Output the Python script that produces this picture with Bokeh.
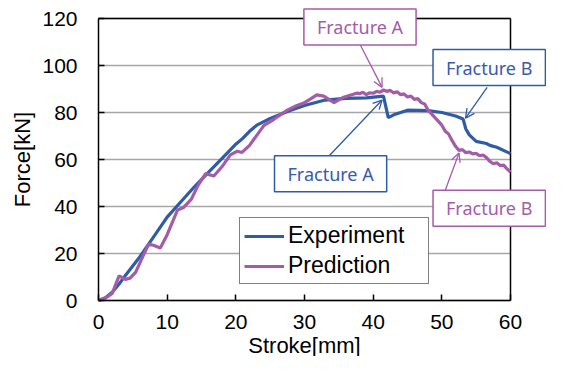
from bokeh.plotting import figure
from bokeh.models import Label, Arrow, OpenHead, Legend, LegendItem, Range1d, FixedTicker, ColumnDataSource, Grid
from bokeh.embed import file_html
from bokeh.resources import INLINE

# ---- data ----
exp_stroke = [0, 1, 2, 3, 4, 6, 8, 10, 12, 14, 16, 18, 20, 21, 22, 23, 25, 28, 30, 33, 36, 39, 41.5,
              42.2, 43, 45, 48, 50, 52, 53.1, 53.5, 54, 55, 56.5, 57, 58, 60]
exp_force = [0, 1.2, 3.5, 7, 11, 18.5, 27, 35.5, 42, 48.5, 54.5, 60.5, 66.5, 69, 72, 74.5, 77.5, 81, 83,
             85.3, 86, 86.2, 87, 77.8, 79, 81, 80.8, 80, 78.5, 77.2, 73, 70.5, 67.7, 66.8, 66, 65.2, 62.5]

pred_stroke = [0, 1, 2, 3, 3.9, 4.6, 5.4, 6.5, 7.3, 8, 9, 10, 11.5, 12.4, 13.5, 14.5, 15.6, 16.8, 18,
               19.2, 20.2, 20.9, 22, 22.6, 24.1, 25.5, 27.5, 28.9, 29.9, 31, 31.8, 32.8, 34.3, 35.7,
               37.7, 38, 38.5, 39, 39.5, 40, 40.5, 41, 41.5, 42, 42.5, 43, 43.5, 44, 44.5, 45, 45.5,
               46, 46.5, 47, 47.5, 48, 48.5, 49, 49.5, 50, 50.5, 51, 51.5, 52, 52.5, 53, 53.5, 54,
               54.5, 55, 55.5, 56, 56.5, 57, 57.5, 58, 58.5, 59, 59.5, 60]
pred_force = [0, 1, 3, 10.5, 9, 9.5, 12, 19, 24, 23.5, 22.3, 28, 38.5, 39.6, 43, 49, 54, 53, 57,
              62, 63.5, 63, 66, 68.5, 74.5, 77, 81, 83, 84, 86, 87.5, 87, 84.2, 86.5,
              88.3, 88.0, 88.6, 87.6, 88.4, 88.2, 89.0, 88.6, 89.6, 89.0, 89.4, 88.3, 88.8, 87.6, 87.9, 86.6, 87.0,
              85.6, 85.9, 84.2, 83.6, 81.0, 79.4, 77.8, 76.2, 74.6, 72.0, 70.8, 68.0, 65.6, 63.8, 64.2, 62.9, 63.2,
              62.4, 62.6, 61.6, 61.9, 60.8, 59.2, 58.2, 58.6, 57.4, 57.6, 56.0, 54.6]

x_ticks = [0, 10, 20, 30, 40, 50, 60]
y_ticks = [0, 20, 40, 60, 80, 100, 120]
series_names = ["Experiment", "Prediction"]

BLUE = "#2f5ba7"
PINK = "#a55ca8"
BLUE_T = "#3a5aab"
PINK_T = "#a55ca8"

# canvas geometry: data area spans px 98..510 horizontally, 18..300 vertically
W, H = 546, 356
L, R, T, B = 98, 510, 18, 300
xmin, xmax = x_ticks[0], x_ticks[-1]
ymin, ymax = y_ticks[0], y_ticks[-1]
sx = (R - L) / (xmax - xmin)
sy = (B - T) / (ymax - ymin)

p = figure(width=W, height=H,
           x_range=Range1d(xmin - L / sx, xmax + (W - R) / sx),
           y_range=Range1d(ymin - (H - B) / sy, ymax + T / sy),
           output_backend="svg", toolbar_location=None,
           min_border=0)
p.min_border_left = 0
p.min_border_right = 0
p.min_border_top = 0
p.min_border_bottom = 0
p.background_fill_color = "white"
p.border_fill_color = "white"
p.outline_line_color = None

# grid lines (bounded to data area)
p.xgrid.grid_line_color = None
p.ygrid.grid_line_color = None
if "cross_bounds" in Grid.properties():
    g = Grid(dimension=1, ticker=FixedTicker(ticks=y_ticks), bounds=(ymin, ymax), cross_bounds=(xmin, xmax),
             grid_line_color="#a6a6a6", grid_line_width=1.5)
    p.add_layout(g)
else:
    p.segment(x0=[xmin] * len(y_ticks), y0=y_ticks, x1=[xmax] * len(y_ticks), y1=y_ticks,
              line_color="#a6a6a6", line_width=1.5)

# top and right border of the data area
p.segment(x0=[xmin, xmax], y0=[ymax, ymin], x1=[xmax, xmax], y1=[ymax, ymax],
          line_color="black", line_width=1.5)

src_e = ColumnDataSource(dict(x=exp_stroke, y=exp_force))
src_p = ColumnDataSource(dict(x=pred_stroke, y=pred_force))
r_e = p.line("x", "y", source=src_e, line_color=BLUE, line_width=3.2)
r_p = p.line("x", "y", source=src_p, line_color=PINK, line_width=3.2)

# axes
xa, ya = p.xaxis[0], p.yaxis[0]
xa.fixed_location = ymin
ya.fixed_location = xmin
xa.bounds = (xmin, xmax)
ya.bounds = (ymin, ymax)
for ax in (xa, ya):
    ax.axis_line_color = "black"
    ax.axis_line_width = 1.5
    ax.major_tick_in = 6
    ax.major_tick_out = 0
    ax.major_tick_line_color = "black"
    ax.major_tick_line_width = 1.5
    ax.minor_tick_line_color = None
    ax.major_label_text_font = "Liberation Sans"
    ax.major_label_text_font_size = "21px"
    ax.major_label_text_color = "black"
    ax.axis_label_text_font = "Liberation Sans"
    ax.axis_label_text_font_size = "22px"
    ax.axis_label_text_font_style = "normal"
    ax.axis_label_text_color = "black"

xa.ticker = FixedTicker(ticks=x_ticks)
ya.ticker = FixedTicker(ticks=y_ticks)
xa.axis_label = "Stroke[mm]"
ya.axis_label = "Force[kN]"
xa.major_label_standoff = 14
xa.axis_label_standoff = 1
ya.major_label_standoff = 21
ya.axis_label_standoff = 4

legend = Legend(items=[LegendItem(label=series_names[0], renderers=[r_e]),
                       LegendItem(label=series_names[1], renderers=[r_p])],
                location=(239, 72))
legend.border_line_color = "black"
legend.border_line_width = 1.2
legend.background_fill_color = "white"
legend.background_fill_alpha = 1
legend.padding = 4
legend.spacing = 3
legend.margin = 0
legend.glyph_width = 40
legend.glyph_height = 22
legend.label_standoff = 4
legend.label_width = 136
legend.label_text_font = "Liberation Sans"
legend.label_text_font_size = "23px"
legend.label_text_color = "black"
legend.label_height = 24
p.add_layout(legend)

# annotations
def arrow(x0, y0, x1, y1, color):
    p.add_layout(Arrow(end=OpenHead(size=9, line_color=color, line_width=1.3),
                       x_start=x0, y_start=y0, x_end=x1, y_end=y1,
                       line_color=color, line_width=1.3))

def box(x, y, text, color, tcolor):
    p.add_layout(Label(x=x, y=y, text=text, text_align="center", text_baseline="middle",
                       text_color=tcolor, text_font="Noto Sans", text_font_size="18px",
                       background_fill_color="white", background_fill_alpha=1,
                       border_line_color=color, border_line_width=1.5,
                       padding=dict(left=13, right=13, top=6, bottom=6)))

arrow(38.15, 108.6, 41.3, 90.7, PINK)
arrow(56.6, 90.7, 53.45, 77.6, BLUE)
arrow(33.5, 61.3, 41.3, 85.3, BLUE)
arrow(50.5, 46.9, 52.5, 62.8, PINK)

box(38.08, 116.4, "Fracture A", PINK, PINK_T)
box(56.9, 99.1, "Fracture B", BLUE, BLUE_T)
box(33.8, 53.9, "Fracture A", BLUE, BLUE_T)
box(56.9, 39.3, "Fracture B", PINK, PINK_T)

open("out.html", "w").write(file_html(p, INLINE))
